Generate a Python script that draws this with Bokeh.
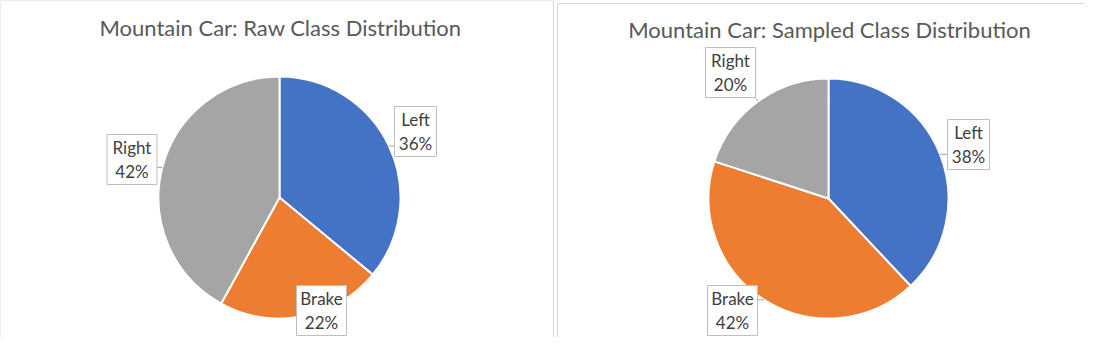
import numpy as np
from bokeh.plotting import figure
from bokeh.models import Range1d
from bokeh.core.properties import value
from bokeh.embed import file_html
from bokeh.resources import INLINE

# ---- data ----
categories = ["Left", "Brake", "Right"]
raw_pct = [36, 22, 42]
sampled_pct = [38, 42, 20]
titles = ["Mountain Car: Raw Class Distribution", "Mountain Car: Sampled Class Distribution"]
colors = ["#4472C4", "#ED7D31", "#A5A5A5"]

# ---- layout (reference pixel coords, y downward) ----
W, H = 1085, 337
centers = [(279, 197), (828, 198)]
radii = [121, 120]
title_pos = [(280, 27), (829, 29)]
# label centre offsets from pie centre (dx, dy) per slice
label_offsets = [
    [(136, -66), (42, 113), (-147.5, -38)],
    [(140, -54), (-96, 112), (-98, -126)],
]
frames = [(0, 0, 553, 352), (557, 3, 1100, 352)]

FONT = "Lato"
TITLE_SIZE = "22px"
LABEL_SIZE = "17px"

p = figure(width=W, height=H, output_backend="svg", toolbar_location=None,
           x_range=Range1d(0, W), y_range=Range1d(0, H),
           min_border=0)
p.axis.visible = False
p.grid.visible = False
p.outline_line_color = None
p.background_fill_color = "white"
p.border_fill_color = "white"

def Y(y):
    return H - np.asarray(y, dtype=float)

# chart frames
for (x0, y0, x1, y1) in frames:
    p.quad(left=[x0], right=[x1], top=[Y(y0)], bottom=[Y(y1)],
           fill_color=None, line_color="#D9D9D9", line_width=1)

for ci, pct in enumerate([raw_pct, sampled_pct]):
    cx, cy = centers[ci]
    r = radii[ci]
    frac = np.array(pct, dtype=float) / sum(pct)
    ends = np.cumsum(frac)
    starts = ends - frac
    p.wedge(x=[cx] * 3, y=[Y(cy)] * 3, radius=r,
            start_angle=list(np.pi / 2 - 2 * np.pi * starts),
            end_angle=list(np.pi / 2 - 2 * np.pi * ends),
            direction="clock", fill_color=colors, line_color="white", line_width=2)

    # labels
    mids = (starts + ends) / 2
    for k, cat in enumerate(categories):
        dx, dy = label_offsets[ci][k]
        lx, ly = cx + dx, cy + dy
        pct_txt = f"{pct[k]}%"
        bw = max(len(cat), len(pct_txt)) * 8 + 10
        bh = 50
        # leader line from pie edge to box
        ex = cx + r * np.sin(2 * np.pi * mids[k])
        ey = cy - r * np.cos(2 * np.pi * mids[k])
        nx = min(max(ex, lx - bw / 2), lx + bw / 2)
        ny = min(max(ey, ly - bh / 2), ly + bh / 2)
        if np.hypot(nx - ex, ny - ey) > 2:
            p.line([ex, nx], list(Y([ey, ny])), line_color="#A6A6A6", line_width=1)
        p.rect(x=[lx], y=[Y(ly)], width=bw, height=bh, fill_color="white",
               line_color="#BFBFBF", line_width=1)
        p.text(x=[lx, lx], y=list(Y([ly - 12, ly + 12])), text=[cat, pct_txt],
               text_align="center", text_baseline="middle",
               text_font=value(FONT), text_font_size=LABEL_SIZE, text_color="#404040")

    tx, ty = title_pos[ci]
    p.text(x=[tx], y=[Y(ty)], text=[titles[ci]], text_align="center",
           text_baseline="middle", text_font=value(FONT),
           text_font_size=TITLE_SIZE, text_color="#595959")

open("out.html", "w").write(file_html(p, INLINE))
